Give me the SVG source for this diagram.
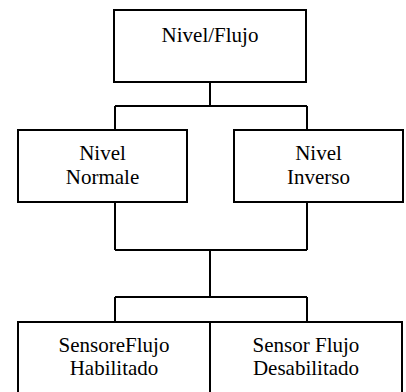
<svg xmlns="http://www.w3.org/2000/svg" width="406" height="392" viewBox="0 0 406 392">
  <style>
    .box { fill: #ffffff; stroke: #000000; stroke-width: 2; }
    .wire { fill: none; stroke: #000000; stroke-width: 2; }
    .label { font-size: 21px; fill: #000000; text-anchor: middle; }
  </style>
  <rect width="406" height="392" fill="#ffffff"/>

  <g id="connectors">
    <path class="wire" d="M210,82 V106 M115,106 H307 M115,106 V130 M307,106 V130"/>
    <path class="wire" d="M115,202 V250 M307,202 V250 M115,250 H307 M210,250 V297"/>
    <path class="wire" d="M115,297 H307 M115,297 V322 M307,297 V322"/>
  </g>

  <g font-family="Liberation Serif, Times New Roman, DejaVu Serif, serif">
    <g id="nivel-flujo">
      <rect class="box" x="114" y="10" width="192" height="72"/>
      <text class="label" x="210" y="42">Nivel/Flujo</text>
    </g>

    <g id="nivel-normale">
      <rect class="box" x="18" y="130" width="169" height="72"/>
      <text class="label" x="102.5" y="160">Nivel</text>
      <text class="label" x="102.5" y="184">Normale</text>
    </g>

    <g id="nivel-inverso">
      <rect class="box" x="234" y="130" width="169" height="72"/>
      <text class="label" x="318.5" y="160">Nivel</text>
      <text class="label" x="318.5" y="184">Inverso</text>
    </g>

    <g id="sensore-flujo-habilitado">
      <rect class="box" x="18" y="322" width="192" height="80"/>
      <text class="label" x="114" y="352">SensoreFlujo</text>
      <text class="label" x="114" y="375">Habilitado</text>
    </g>

    <g id="sensor-flujo-desabilitado">
      <rect class="box" x="210" y="322" width="192" height="80"/>
      <text class="label" x="306" y="352">Sensor Flujo</text>
      <text class="label" x="306" y="375">Desabilitado</text>
    </g>
  </g>
</svg>
